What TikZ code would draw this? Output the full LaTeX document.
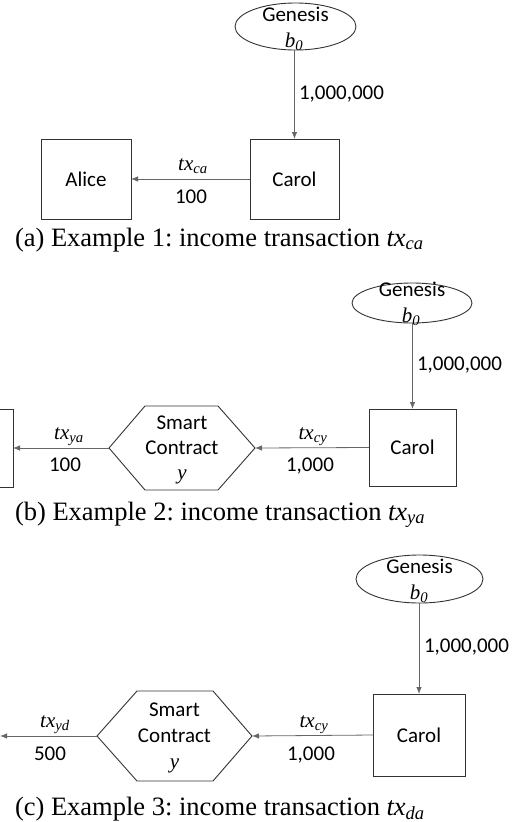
\documentclass[tikz,border=0pt]{standalone}
\usepackage{fontspec}
\setmainfont{Liberation Serif}
\newfontfamily\calib{Carlito}
\usetikzlibrary{arrows.meta,shapes.geometric}
\frenchspacing
\newcommand{\txl}[1]{{\rmfamily\itshape tx}\textsubscript{\rmfamily\itshape #1}}
\newcommand{\bz}{{\rmfamily\itshape b}\textsubscript{\rmfamily\itshape 0}}
\begin{document}
\begin{tikzpicture}[x=1pt,y=-1pt,
  every node/.style={inner sep=0pt, outer sep=0pt},
  shapeline/.style={draw=black!80, line width=0.9pt},
  box/.style={shapeline, minimum width=90pt, minimum height=80pt, font=\calib\fontsize{21}{25}\selectfont},
  gen/.style={shapeline, ellipse, minimum width=120pt, minimum height=48pt},
  hexa/.style={minimum width=146pt, minimum height=84pt},
  hexlbl/.style={align=center, font=\calib\fontsize{21}{25}\selectfont},
  lbl/.style={anchor=base, font=\calib\fontsize{21}{25}\selectfont},
  val/.style={anchor=base west, font=\calib\fontsize{21}{25}\selectfont},
  txt/.style={anchor=base, font=\rmfamily\fontsize{21}{25}\selectfont},
  capt/.style={anchor=base west, font=\rmfamily\fontsize{26.5}{30}\selectfont},
  conn/.style={draw=black!60, line width=0.8pt, -{Latex[length=7pt,width=5.5pt]}}]
\useasboundingbox (0,0) rectangle (520,822);

% ---------- panel (a)
\node[gen, minimum width=121pt, minimum height=47pt] (g1) at (295.5,26.5) {};
\node[lbl] (g1t) at (295.5,21) {Genesis};
\node[txt] (g1b) at (294,47) {\bz};
\node[box, minimum width=89pt] (c1) at (294.5,179) {Carol};
\node[box] (a1) at (86,179) {Alice};
\draw[conn] (c1.north |- g1.south) -- (c1.north);
\draw[conn] (c1.west) -- (a1.east);
\node[val] (v1) at (299,99) {1,000,000};
\node[txt] (t1) at (193,170) {\txl{ca}};
\node[lbl] (n1) at (191,203) {100};
\node[capt] (cap1) at (15,246) {(a) Example 1: income transaction \txl{ca}};

% ---------- panel (b)
\node[gen, minimum width=120pt, minimum height=40pt] (g2) at (412,303) {};
\node[lbl] (g2t) at (412,296) {Genesis};
\node[txt] (g2b) at (411,322) {\bz};
\node[box, minimum width=87pt, minimum height=77pt] (c2) at (412.5,447.5) {Carol};
\node[hexa] (h2) at (182,448) {};
\draw[shapeline] (h2.west) -- ([xshift=36pt]h2.north west) -- ([xshift=-37pt]h2.north east)
  -- (h2.east) -- ([xshift=-37pt]h2.south east) -- ([xshift=36pt]h2.south west) -- cycle;
\node[hexlbl] (h2t) at (182,450) {Smart\\Contract\\{\rmfamily\itshape y}};
\node[box, minimum height=78pt] (a2) at (-32,448) {};
\draw[conn] (c2.north |- g2.south) -- (c2.north);
\draw[conn] (c2.west) -- (h2.east);
\draw[conn] (h2.west) -- (a2.east);
\node[val] (v2) at (417,370) {1,000,000};
\node[txt] (t2) at (313,439) {\txl{cy}};
\node[lbl] (n2) at (310,471) {1,000};
\node[txt] (t3) at (69,439) {\txl{ya}};
\node[lbl] (n3) at (65,471) {100};
\node[capt] (cap2) at (15,520) {(b) Example 2: income transaction \txl{ya}};

% ---------- panel (c)
\node[gen, minimum width=127pt, minimum height=48pt] (g3) at (419.5,579) {};
\node[lbl] (g3t) at (419.5,573) {Genesis};
\node[txt] (g3b) at (419,599) {\bz};
\node[box, minimum width=92pt, minimum height=82pt] (c3) at (419,735) {Carol};
\node[hexa, minimum width=155pt, minimum height=90pt] (h3) at (174.5,736) {};
\draw[shapeline] (h3.west) -- ([xshift=40pt]h3.north west) -- ([xshift=-39pt]h3.north east)
  -- (h3.east) -- ([xshift=-39pt]h3.south east) -- ([xshift=40pt]h3.south west) -- cycle;
\node[hexlbl, font=\calib\fontsize{21}{26}\selectfont] (h3t) at (174.5,738) {Smart\\Contract\\{\rmfamily\itshape y}};
\coordinate (e3) at (0,736);
\draw[conn] (c3.north |- g3.south) -- (c3.north);
\draw[conn] (c3.west) -- (h3.east);
\draw[conn] (h3.west) -- (e3);
\node[val] (v3) at (424,652) {1,000,000};
\node[txt] (t4) at (314,727) {\txl{cy}};
\node[lbl] (n4) at (311,760) {1,000};
\node[txt] (t5) at (55,727) {\txl{yd}};
\node[lbl] (n5) at (50,760) {500};
\node[capt] (cap3) at (15,815) {(c) Example 3: income transaction \txl{da}};
\end{tikzpicture}
\end{document}
